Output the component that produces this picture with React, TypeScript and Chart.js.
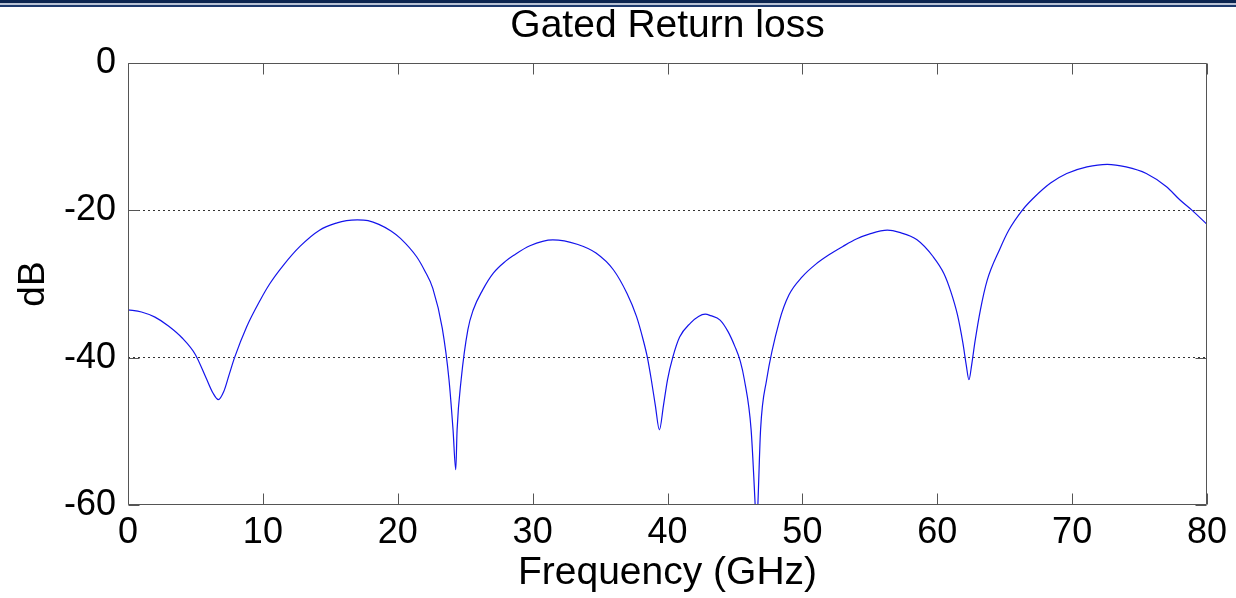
import React, { useEffect, useRef } from "react";
import { Chart, registerables } from "chart.js";

Chart.register(...registerables);

const chartTitle = "Gated Return loss";
const xAxisTitle = "Frequency (GHz)";
const yAxisTitle = "dB";

const xTicks = [0, 10, 20, 30, 40, 50, 60, 70, 80];
const yTicks = [0, -20, -40, -60];
const gridValues = [-20, -40];

const freqGHz = [
  0, 1, 2, 3, 4, 5, 5.8, 6.3, 6.7, 7.1, 7.5, 7.9, 8.8, 9.8, 10.5, 11.5, 12.75, 14.2, 15.5, 16.2,
  17.0, 17.8, 18.6, 19.5, 20.2, 21.4, 22.0, 22.6, 23.3, 23.8, 24.1, 24.3, 24.4, 24.7, 25.2, 25.6,
  26.3, 27.1, 28.0, 28.6, 29.8, 31.5, 33.3, 34.7, 36.0, 37.0, 37.7, 38.2, 38.5, 38.8, 39.1, 39.4,
  39.7, 40.0, 40.4, 40.9, 41.7, 42.3, 42.8, 43.2, 43.9, 44.5, 45.0, 45.4, 45.7, 46.2, 46.5, 46.6,
  46.7, 46.9, 47.35, 48.3, 49.0, 50.0, 51.0, 52.0, 53.0, 54.0, 55.0, 56.3, 57.2, 58.5, 59.7, 60.5,
  61.0, 61.5, 61.9, 62.15, 62.35, 62.55, 62.8, 63.2, 63.7, 64.65, 65.3, 66.3, 67.1, 68.4, 69.6,
  71.1, 72.6, 74.0, 75.5, 77.0, 78.0, 78.9, 80.0,
];

const returnLossDb = [
  -33.5, -33.8, -34.5, -35.7, -37.3, -39.6, -42.8, -44.8, -45.7, -44.6, -42.3, -40.0, -35.8, -32.2,
  -30.0, -27.5, -24.9, -22.7, -21.7, -21.4, -21.3, -21.4, -21.9, -22.8, -23.8, -26.3, -28.2,
  -30.6, -36.0, -43.0, -49.8, -55.2, -49.8, -43.0, -36.2, -33.5, -30.8, -28.5, -26.9, -26.1,
  -24.8, -24.0, -24.6, -25.8, -28.1, -31.3, -34.4, -37.6, -39.9, -43.0, -46.5, -49.8, -46.5,
  -43.0, -39.9, -37.2, -35.3, -34.4, -34.1, -34.3, -34.9, -36.5, -38.5, -40.5, -43.0, -49.8,
  -60.0, -64.0, -60.0, -49.8, -43.0, -35.0, -31.5, -29.0, -27.3, -26.0, -24.9, -23.9, -23.2,
  -22.7, -23.0, -24.0, -26.3, -28.6, -31.0, -34.2, -38.0, -41.0, -43.0, -41.0, -37.8, -33.5,
  -29.5, -25.2, -22.7, -20.0, -18.4, -16.3, -15.0, -14.1, -13.75, -14.1, -15.0, -16.8, -18.6,
  -20.0, -21.9,
];

const FONT = "'Liberation Sans', Arial, sans-serif";

const boxPlugin = {
  id: "matlabBox",
  afterDraw(chart: any) {
    const { ctx, chartArea } = chart;
    const { left, right, top, bottom } = chartArea;
    const x = chart.scales.x;
    const y = chart.scales.y;
    const L = 11;
    ctx.save();
    ctx.lineWidth = 1;
    ctx.strokeStyle = "#555";
    const l = Math.round(left) + 0.5;
    const r = Math.round(right) - 0.5;
    const t = Math.round(top) + 0.5;
    const b = Math.round(bottom) - 0.5;
    ctx.beginPath();
    ctx.moveTo(l, t);
    ctx.lineTo(r, t);
    ctx.lineTo(r, b);
    ctx.lineTo(l, b);
    ctx.closePath();
    ctx.stroke();
    ctx.beginPath();
    x.ticks.forEach((tk: any) => {
      const px = Math.round(x.getPixelForValue(tk.value)) + 0.5;
      ctx.moveTo(px, b);
      ctx.lineTo(px, b - L);
      ctx.moveTo(px, t);
      ctx.lineTo(px, t + L);
    });
    y.ticks.forEach((tk: any) => {
      const py = Math.round(y.getPixelForValue(tk.value)) + 0.5;
      ctx.moveTo(l, py);
      ctx.lineTo(l + L, py);
      ctx.moveTo(r, py);
      ctx.lineTo(r - L, py);
    });
    ctx.stroke();
    ctx.restore();
  },
};

export default function App() {
  const canvasRef = useRef<HTMLCanvasElement | null>(null);

  useEffect(() => {
    document.body.style.margin = "0";
    const canvas = canvasRef.current;
    if (!canvas) return;
    const chart = new Chart(canvas, {
      type: "line",
      data: {
        datasets: [
          {
            data: freqGHz.map((f, i) => ({ x: f, y: returnLossDb[i] })),
            borderColor: "rgb(20,20,235)",
            borderWidth: 1.2,
            pointRadius: 0,
            cubicInterpolationMode: "monotone",
            fill: false,
          },
        ],
      },
      options: {
        responsive: false,
        animation: false,
        events: [],
        layout: { padding: { left: 0, right: 29, top: 0, bottom: 0 } },
        plugins: {
          legend: { display: false },
          tooltip: { enabled: false },
          title: {
            display: true,
            fullSize: false,
            text: chartTitle,
            color: "#000",
            font: { family: FONT, size: 39, weight: "normal" },
            padding: { top: 3, bottom: 13.2 },
          },
        },
        scales: {
          x: {
            type: "linear",
            min: 0,
            max: 80,
            afterBuildTicks: (s: any) => {
              s.ticks = xTicks.map((v) => ({ value: v }));
            },
            afterFit: (s: any) => {
              s.height = 93;
            },
            ticks: {
              color: "#000",
              font: { family: FONT, size: 36 },
              padding: 6,
              maxRotation: 0,
              autoSkip: false,
            },
            grid: { display: false, drawTicks: false },
            border: { display: false },
            title: {
              display: true,
              text: xAxisTitle,
              color: "#000",
              font: { family: FONT, size: 39 },
              padding: { top: 0, bottom: 1 },
            },
          },
          y: {
            type: "linear",
            min: -60,
            max: 0,
            afterBuildTicks: (s: any) => {
              s.ticks = yTicks.map((v) => ({ value: v }));
            },
            afterFit: (s: any) => {
              s.width = 128;
            },
            ticks: {
              color: "#000",
              font: { family: FONT, size: 36 },
              padding: 12,
              autoSkip: false,
            },
            grid: {
              drawTicks: false,
              color: (c: any) =>
                c.tick && gridValues.includes(c.tick.value) ? "#333" : "rgba(0,0,0,0)",
              lineWidth: 1,
            },
            border: { display: false, dash: [2, 3] },
            title: {
              display: true,
              text: yAxisTitle,
              color: "#000",
              font: { family: FONT, size: 37 },
              padding: { top: 12, bottom: 0 },
            },
          },
        },
      },
      plugins: [boxPlugin],
    } as any);
    return () => chart.destroy();
  }, []);

  return (
    <div style={{ position: "relative", width: 1236, height: 598, background: "#fff" }}>
      <canvas ref={canvasRef} width={1236} height={598} style={{ display: "block" }} />
      <div style={{ position: "absolute", left: 0, top: 0, width: 1236, height: 3, background: "#0c2550" }} />
      <div style={{ position: "absolute", left: 0, top: 3, width: 1236, height: 2, background: "#b8c2d4" }} />
      <div style={{ position: "absolute", left: 0, top: 5, width: 1236, height: 2, background: "#1d3a6e" }} />
    </div>
  );
}
